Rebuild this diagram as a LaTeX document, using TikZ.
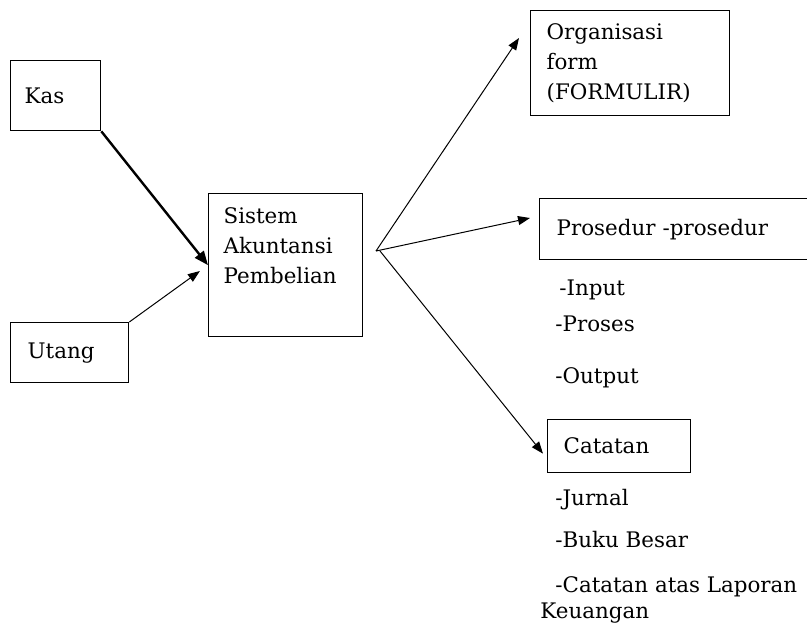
\documentclass[tikz,border=0pt]{standalone}
\usepackage{fontspec}
\setmainfont{DejaVu Serif}
\usetikzlibrary{arrows.meta,calc}

\begin{document}
\begin{tikzpicture}[x=0.5pt, y=-0.5pt,
        font=\fontsize{10.7}{15}\selectfont,
        box/.style={draw, line width=0.65pt, anchor=north west, align=left, inner ysep=0pt},
        item/.style={anchor=base west, inner sep=0pt},
        tip/.style={-{Triangle[length=6pt, width=4.5pt]}}]
            \useasboundingbox (0,0) rectangle (807,623);
            \clip (0,0) rectangle (807,623);

            \node[box, text width=31pt, inner xsep=7pt, minimum height=35pt] (kas) at (10,60) {Kas};
            \node[box, text width=42pt, inner xsep=8.5pt, minimum height=30pt] (utang) at (10,322) {Utang};
            \node[box, text width=62pt, inner xsep=7.5pt, minimum height=71.5pt] (sistem) at (208,193) {Sistem\\Akuntansi\\Pembelian\\[5pt]\mbox{}};
            \node[box, text width=83.5pt, inner xsep=8pt, minimum height=52.5pt] (org) at (530,10) {Organisasi\\form\\(FORMULIR)};
            \node[box, text width=128pt, inner xsep=8.5pt, minimum height=30.5pt] (prosedur) at (539,198) {Prosedur -prosedur};
            \node[box, text width=55.5pt, inner xsep=8pt, minimum height=26.5pt] (catatan) at (547,419) {Catatan};

            \node[item] (input) at (559,295) {-Input};
            \node[item] (proses) at (555,331) {-Proses};
            \node[item] (output) at (555,383) {-Output};
            \node[item] (jurnal) at (555,505) {-Jurnal};
            \node[item] (buku) at (555,547) {-Buku Besar};
            \node[anchor=north west, inner sep=0pt, align=left] (laporan) at (540,576) {\hspace*{7.5pt}-Catatan atas Laporan\\[-2pt]Keuangan};

            \coordinate (fan) at (376,251);
            \draw[-{Triangle[length=7pt, width=5.5pt]}, line width=1.2pt] (kas.south east) -- (sistem.west);
            \draw[tip, line width=0.5pt, shorten >=5pt] (utang.north east) -- (sistem.west);
            \draw[tip, line width=0.5pt] (fan) -- ($(org.north west)+(-11,28)$);
            \draw[tip, line width=0.5pt] (fan) -- ($(prosedur.north west)+(-9,20)$);
            \draw[tip, line width=0.5pt] ([xshift=2pt]fan) -- ($(catatan.west)+(-4,7.5)$);
        \end{tikzpicture}
\end{document}
